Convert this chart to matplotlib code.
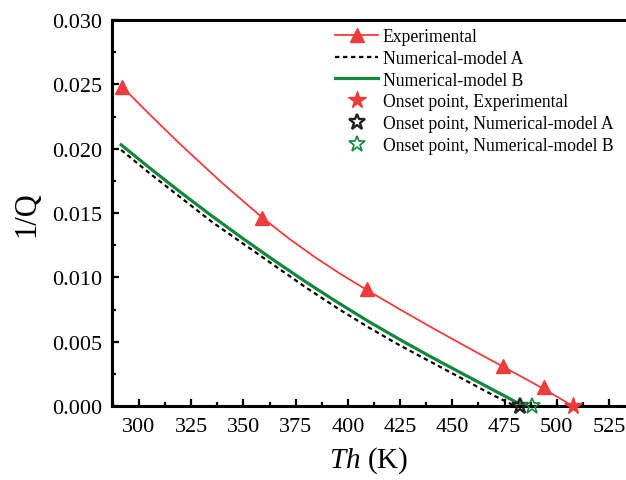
import matplotlib
matplotlib.use("Agg")
import matplotlib.pyplot as plt
from matplotlib.lines import Line2D
from matplotlib.ticker import MultipleLocator, FormatStrFormatter

plt.rcParams['font.family'] = ['Liberation Serif', 'DejaVu Serif']
plt.rcParams['mathtext.fontset'] = 'custom'
plt.rcParams['mathtext.it'] = 'Liberation Serif:italic'
plt.rcParams['mathtext.rm'] = 'Liberation Serif'

# measured points
exp_T = [292, 359, 409, 474, 494]
exp_Q = [0.0248, 0.0146, 0.0091, 0.0031, 0.0015]

# smooth fit through the measurements
fit_T = [292, 305, 320, 340, 359, 372, 385, 397, 409, 425, 440, 457, 474, 485, 494, 501, 507.5]
fit_Q = [0.0248, 0.02268, 0.02031, 0.01731, 0.01465, 0.01299, 0.01148, 0.01021, 0.00902,
         0.0075, 0.00611, 0.00458, 0.00308, 0.00211, 0.0013, 0.00064, 0.0]

# numerical models
modelA_T = [291.5, 305, 320, 335, 350, 365, 380, 395, 410, 425, 440, 455, 470, 480]
modelA_Q = [0.0199, 0.0181, 0.0162, 0.0143, 0.0126, 0.0109, 0.0092, 0.0076, 0.0061,
            0.0047, 0.0034, 0.0021, 0.0008, 0.0]
modelB_T = [291.5, 305, 320, 335, 350, 365, 380, 395, 410, 425, 440, 455, 470, 484]
modelB_Q = [0.0203, 0.01852, 0.0166, 0.01476, 0.01299, 0.01128, 0.00963, 0.00806,
            0.00656, 0.00515, 0.0038, 0.0025, 0.00121, 0.0]

# onset temperatures (1/Q = 0)
onset_exp = 507.5
onset_A = 482.5
onset_B = 488.0

RED = '#ee3b3b'
GREEN = '#13873a'


def main():
    fig = plt.figure(figsize=(6.26, 4.81), dpi=100)
    ax = fig.add_axes([112 / 626, 74 / 481, 514 / 626, 386 / 481])

    ax.plot(fit_T, fit_Q, color=RED, lw=1.3, zorder=3)
    ax.plot(exp_T, exp_Q, ls='none', marker='^', ms=9.5, color=RED, zorder=4)
    ax.plot(modelA_T, modelA_Q, color='black', lw=1.6, dashes=(2, 1.6), zorder=2)
    ax.plot(modelB_T, modelB_Q, color=GREEN, lw=2.3, zorder=2)

    ax.plot([onset_exp], [0], ls='none', marker='*', ms=13, color=RED,
            clip_on=False, zorder=6)
    ax.plot([onset_A], [0], ls='none', marker='*', ms=12, mfc='none',
            mec='#222222', mew=1.7, clip_on=False, zorder=5)
    ax.plot([onset_B], [0], ls='none', marker='*', ms=12, mfc='none',
            mec=GREEN, mew=1.2, clip_on=False, zorder=5)

    ax.set_xlim(287.1, 533.1)
    ax.set_ylim(0, 0.030)
    ax.xaxis.set_major_locator(MultipleLocator(25))
    ax.xaxis.set_minor_locator(MultipleLocator(12.5))
    ax.yaxis.set_major_locator(MultipleLocator(0.005))
    ax.yaxis.set_minor_locator(MultipleLocator(0.0025))
    ax.yaxis.set_major_formatter(FormatStrFormatter('%.3f'))

    ax.tick_params(which='both', direction='in', width=1.6, labelsize=16,
                   top=False, right=False)
    ax.tick_params(which='major', length=5)
    ax.tick_params(which='minor', length=3)
    ax.tick_params(axis='x', pad=8)
    ax.tick_params(axis='y', pad=7)

    for side in ['left', 'bottom', 'top']:
        ax.spines[side].set_linewidth(2.2)
    ax.spines['right'].set_visible(False)

    ax.set_xlabel(r'$Th$ (K)', fontsize=21, labelpad=6)
    ax.set_ylabel('1/Q', fontsize=22, labelpad=8)

    handles = [
        Line2D([], [], color=RED, lw=1.3, marker='^', ms=9.5),
        Line2D([], [], color='black', lw=1.6, dashes=(2, 1.6)),
        Line2D([], [], color=GREEN, lw=2.3),
        Line2D([], [], ls='none', marker='*', ms=13, color=RED),
        Line2D([], [], ls='none', marker='*', ms=12, mfc='none', mec='#222222', mew=1.7),
        Line2D([], [], ls='none', marker='*', ms=12, mfc='none', mec=GREEN, mew=1.2),
    ]
    labels = ['Experimental', 'Numerical-model A', 'Numerical-model B',
              'Onset point, Experimental', 'Onset point, Numerical-model A',
              'Onset point, Numerical-model B']
    fig.legend(handles, labels, loc='upper left',
               bbox_to_anchor=(335 / 626, 1 - 29 / 481), bbox_transform=fig.transFigure,
               frameon=False, fontsize=12.7, numpoints=1, handlelength=2.45,
               handletextpad=0.25, labelspacing=0.27, borderpad=0, borderaxespad=0)

    fig.savefig('out.png', dpi=100)


if __name__ == "__main__":
    main()
